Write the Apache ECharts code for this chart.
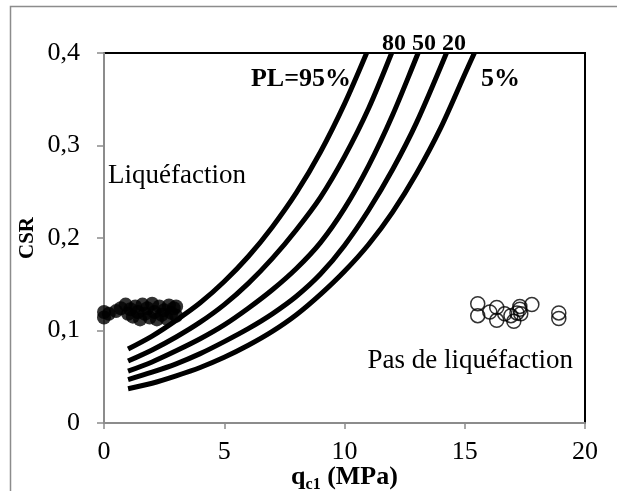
<!DOCTYPE html>
<html><head><meta charset="utf-8">
<script src="https://cdn.jsdelivr.net/npm/echarts@6/dist/echarts.min.js"></script>
<style>html,body{margin:0;padding:0;background:#fff}#c{width:617px;height:491px}</style>
</head><body><div id="c"></div>
<script>
// Probability curves (PL) : [qc1 (MPa), CSR]
const curvePL95 = [[1,0.080],[2,0.094],[3,0.111],[4,0.130],[5,0.153],[6,0.180],[7,0.212],[8,0.249],[9,0.293],[10,0.345],[10.92,0.400]];
const curvePL80 = [[1,0.067],[2,0.079],[3,0.093],[4,0.109],[5,0.128],[6,0.151],[7,0.178],[8,0.209],[9,0.244],[10,0.288],[11,0.340],[11.96,0.400]];
const curvePL50 = [[1,0.056],[2,0.066],[3,0.078],[4,0.091],[5,0.106],[6,0.124],[7,0.144],[8,0.167],[9,0.195],[10,0.232],[11,0.278],[12,0.333],[13.06,0.400]];
const curvePL20 = [[1,0.047],[2,0.055],[3,0.064],[4,0.075],[5,0.088],[6,0.102],[7,0.118],[8,0.137],[9,0.161],[10,0.192],[11,0.230],[12,0.274],[13,0.325],[14.24,0.400]];
const curvePL5  = [[1,0.037],[2,0.043],[3,0.051],[4,0.060],[5,0.071],[6,0.084],[7,0.099],[8,0.117],[9,0.139],[10,0.164],[11,0.193],[12,0.228],[13,0.270],[14,0.319],[15,0.377],[15.4,0.400]];
// Liquefied points (filled)
const liquefied = [[0.0,0.114],[0.0,0.120],[0.2,0.118],[0.5,0.121],[0.7,0.124],[0.9,0.128],[1.0,0.118],[1.1,0.123],[1.2,0.115],[1.3,0.126],[1.4,0.120],[1.5,0.112],[1.6,0.128],[1.7,0.118],[1.8,0.124],[1.9,0.114],[2.0,0.129],[2.1,0.120],[2.2,0.112],[2.3,0.126],[2.4,0.117],[2.5,0.122],[2.6,0.113],[2.7,0.127],[2.8,0.119],[2.9,0.124],[3.0,0.116],[3.0,0.126]];
// Non-liquefied points (open)
const nonLiquefied = [[15.54,0.129],[15.54,0.116],[16.04,0.120],[16.33,0.125],[16.33,0.111],[16.66,0.118],[16.92,0.116],[17.04,0.110],[17.17,0.119],[17.29,0.126],[17.29,0.123],[17.33,0.118],[17.79,0.128],[18.91,0.119],[18.91,0.113]];
const xTicks = {min:0, max:20, interval:5};
const yTicks = {min:0, max:0.4, interval:0.1};

const chart = echarts.init(document.getElementById('c'));
const grey = '#8c8c8c';
const serif = 'Liberation Serif';
function curve(d){return {type:'line',data:d,showSymbol:false,smooth:0.3,lineStyle:{color:'#000',width:5},silent:true,z:3};}
chart.setOption({
  animation:false,
  backgroundColor:'#fff',
  grid:{left:104,right:32,top:53,bottom:68,show:true,containLabel:false,outerBoundsMode:'none',borderColor:'#000',borderWidth:2,backgroundColor:'transparent'},
  xAxis:{type:'value',min:xTicks.min,max:xTicks.max,interval:xTicks.interval,
    axisLine:{lineStyle:{color:grey,width:2}},axisTick:{show:true,length:6,lineStyle:{color:grey,width:1.5}},
    splitLine:{show:false},
    axisLabel:{color:'#000',fontFamily:serif,fontSize:26,margin:16},
    name:'{b|q}{s|c1}{b| (MPa)}',nameLocation:'middle',nameGap:41,nameMoveOverlap:false,
    nameTextStyle:{rich:{
      b:{fontFamily:serif,fontSize:26,lineHeight:26,fontWeight:'bold',color:'#000',verticalAlign:'top'},
      s:{fontFamily:serif,fontSize:16,lineHeight:16,fontWeight:'bold',color:'#000',verticalAlign:'top',padding:[13,0,0,0]}}}
  },
  yAxis:{type:'value',min:yTicks.min,max:yTicks.max,interval:yTicks.interval,
    axisLine:{show:true,lineStyle:{color:grey,width:2}},axisTick:{show:true,length:7,lineStyle:{color:grey,width:1.5}},
    splitLine:{show:false},
    axisLabel:{color:'#000',fontFamily:serif,fontSize:26,margin:24,formatter:v=>String(Math.round(v*10)/10).replace('.',',')},
    name:'CSR',nameLocation:'middle',nameGap:66,nameRotate:90,nameMoveOverlap:false,
    nameTextStyle:{fontFamily:serif,fontSize:21,fontWeight:'bold',color:'#000'}
  },
  series:[
    curve(curvePL95),curve(curvePL80),curve(curvePL50),curve(curvePL20),curve(curvePL5),
    {type:'scatter',data:liquefied,symbol:'circle',symbolSize:14,itemStyle:{color:'#000'},z:4},
    {type:'scatter',data:nonLiquefied,symbol:'circle',symbolSize:14,itemStyle:{color:'rgba(0,0,0,0)',borderColor:'#000',borderWidth:1.5},z:4}
  ],
  graphic:[
    {type:'rect',shape:{x:10.5,y:6.5,width:700,height:600},style:{fill:'none',stroke:grey,lineWidth:1.5},z:0},
    {type:'text',x:301,y:79,style:{text:'PL=95%',font:'bold 26px "Liberation Serif"',fill:'#000',textAlign:'center',textVerticalAlign:'middle'},z:10},
    {type:'text',x:382,y:44,style:{text:'80 50 20',font:'bold 24px "Liberation Serif"',fill:'#000',textAlign:'left',textVerticalAlign:'middle'},z:10},
    {type:'text',x:481,y:79,style:{text:'5%',font:'bold 26px "Liberation Serif"',fill:'#000',textAlign:'left',textVerticalAlign:'middle'},z:10},
    {type:'text',x:108,y:176,style:{text:'Liquéfaction',font:'27px "Liberation Serif"',fill:'#000',textAlign:'left',textVerticalAlign:'middle'},z:10},
    {type:'text',x:573,y:361,style:{text:'Pas de liquéfaction',font:'27px "Liberation Serif"',fill:'#000',textAlign:'right',textVerticalAlign:'middle'},z:10}
  ]
});
</script></body></html>
